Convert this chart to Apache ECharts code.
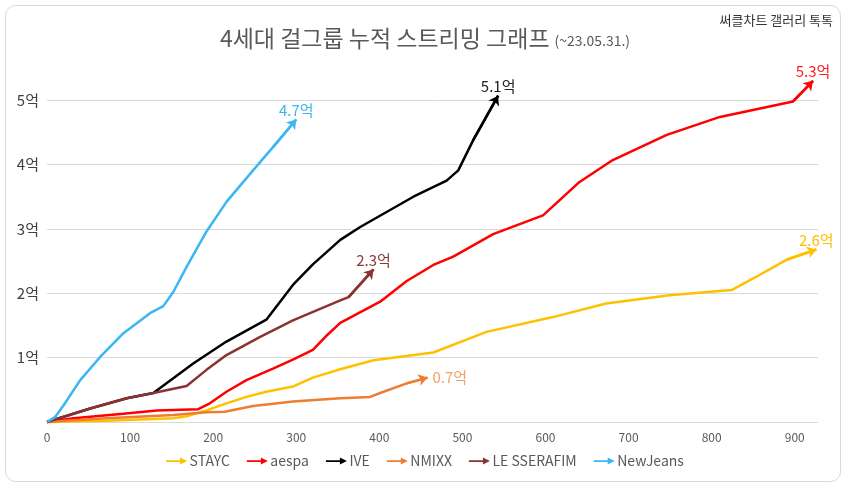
<!DOCTYPE html>
<html><head><meta charset="utf-8">
<script src="https://cdn.jsdelivr.net/npm/echarts@6/dist/echarts.min.js"></script>
<style>html,body{margin:0;padding:0;background:#fff}#c{width:850px;height:489px}</style>
</head><body><div id="c"></div>
<script>
const SERIES_NAMES = ['STAYC','aespa','IVE','NMIXX','LE SSERAFIM','NewJeans'];
const SERIES_COLORS = ['#FFC000','#FF0000','#000000','#ED7D31','#8B3232','#3AB7F2'];
const LABEL_COLORS = ['#FFC000','#FF2020','#222222','#F4A06A','#8B3A3A','#3AB7F2'];
const END_LABELS = ['2.6억','5.3억','5.1억','0.7억','2.3억','4.7억'];
const X_TICKS = [0,100,200,300,400,500,600,700,800,900];
const Y_TICKS = ['','1억','2억','3억','4억','5억'];

const STAYC = [[0,0],[72,0.02],[152,0.06],[168,0.09],[192,0.18],[216,0.29],[240,0.39],[264,0.47],[296,0.55],[320,0.69],[353,0.82],[393,0.96],[465,1.08],[529,1.40],[609,1.63],[673,1.84],[749,1.97],[824,2.05],[850,2.23],[890,2.52],[926,2.68]];
const AESPA = [[0,0],[32,0.06],[92,0.13],[132,0.18],[182,0.20],[196,0.29],[216,0.47],[240,0.65],[272,0.83],[296,0.97],[320,1.12],[338,1.36],[353,1.54],[401,1.87],[433,2.19],[465,2.44],[489,2.57],[537,2.92],[597,3.21],[641,3.73],[681,4.07],[746,4.46],[810,4.74],[898,4.98],[922,5.30]];
const IVE = [[0,0],[52,0.21],[96,0.37],[128,0.45],[152,0.68],[176,0.91],[216,1.25],[264,1.59],[296,2.13],[320,2.45],[353,2.83],[377,3.03],[441,3.50],[481,3.75],[495,3.91],[513,4.38],[543,5.07]];
const NMIXX = [[0,0],[72,0.06],[152,0.11],[192,0.15],[214,0.16],[248,0.25],[296,0.32],[353,0.37],[389,0.39],[401,0.45],[433,0.60],[458,0.69]];
const LESSERAFIM = [[0,0],[52,0.21],[96,0.37],[128,0.45],[168,0.56],[192,0.81],[216,1.04],[256,1.32],[296,1.58],[353,1.89],[363,1.94],[393,2.37]];
const NEWJEANS = [[0,0],[10,0.08],[20,0.26],[40,0.65],[64,1.01],[92,1.38],[124,1.69],[140,1.80],[152,2.02],[168,2.41],[192,2.96],[216,3.42],[248,3.91],[272,4.27],[300,4.70]];

const DATA = [STAYC, AESPA, IVE, NMIXX, LESSERAFIM, NEWJEANS];
const LABEL_POS = ['top','top','top','right','top','top'];

const FONT = '"Noto Sans CJK KR", "Noto Sans", sans-serif';
const chart = echarts.init(document.getElementById('c'));

const series = SERIES_NAMES.map((name, i) => {
  const d = DATA[i];
  const n = d.length;
  const data = d.map((p, j) => {
    if (j === n - 1) {
      return {value: p, label: {show: true, formatter: END_LABELS[i], position: LABEL_POS[i],
        distance: LABEL_POS[i] === 'right' ? 5 : 2, color: LABEL_COLORS[i], fontSize: 15, fontFamily: FONT}};
    }
    return p;
  });
  return {
    name, type: 'line', data, showSymbol: true, showAllSymbol: true, symbol: 'circle', symbolSize: 0,
    clip: false, label: {show: false},
    lineStyle: {color: SERIES_COLORS[i], width: 2.5}, itemStyle: {color: SERIES_COLORS[i]},
    z: 2 + i, animation: false,
    markLine: {
      silent: true, animation: false, symbol: ['none','arrow'], symbolSize: [9, 9],
      lineStyle: {color: SERIES_COLORS[i], width: 2.5, type: 'solid'}, label: {show: false},
      data: [[{coord: d[n-2]}, {coord: d[n-1]}]]
    }
  };
});

chart.setOption({
  animation: false,
  backgroundColor: '#fff',
  title: {
    text: '{a|4세대 걸그룹 누적 스트리밍 그래프} {b|(~23.05.31.)}',
    left: 'center', top: 22,
    textStyle: {rich: {
      a: {fontSize: 23, color: '#595959', fontFamily: FONT, fontWeight: 'normal'},
      b: {fontSize: 14, color: '#595959', fontFamily: FONT, fontWeight: 'normal', padding: [4,0,0,0]}
    }}
  },
  graphic: [
    {type: 'rect', shape: {x: 5.5, y: 5.5, width: 835, height: 476, r: 10}, style: {fill: 'none', stroke: '#d9d9d9', lineWidth: 1}, silent: true, z: 0},
    {type: 'text', right: 17, top: 14, style: {text: '써클차트 갤러리 톡톡', fill: '#333', font: '13px ' + FONT}}
  ],
  legend: {
    data: SERIES_NAMES, bottom: 16, left: 'center', itemWidth: 22, itemHeight: 7, itemGap: 17,
    icon: 'path://M0,3 L16,3 L16,0 L24,4 L16,8 L16,5 L0,5 Z',
    textStyle: {color: '#595959', fontSize: 14, fontFamily: FONT, padding: [0,0,0,-3]}
  },
  grid: {left: 47, right: 32, top: 68, bottom: 67},
  xAxis: {
    type: 'value', min: 0, max: 928, interval: 100,
    axisLine: {show: false}, axisTick: {show: false}, splitLine: {show: false},
    axisLabel: {color: '#595959', fontSize: 12, fontFamily: FONT, margin: 9,
      formatter: v => X_TICKS.includes(v) ? String(v) : ''}
  },
  yAxis: {
    type: 'value', min: 0, max: 5.5, interval: 1,
    axisLine: {show: false}, axisTick: {show: false},
    splitLine: {lineStyle: {color: ['#d9d9d9','#d9d9d9','#d9d9d9','#d9d9d9','#d9d9d9','#d9d9d9','rgba(0,0,0,0)'], width: 1}},
    axisLabel: {color: '#404040', fontSize: 15, fontFamily: FONT, margin: 8,
      formatter: v => (v === Math.round(v) && Y_TICKS[v]) || ''}
  },
  series
});
</script></body></html>
